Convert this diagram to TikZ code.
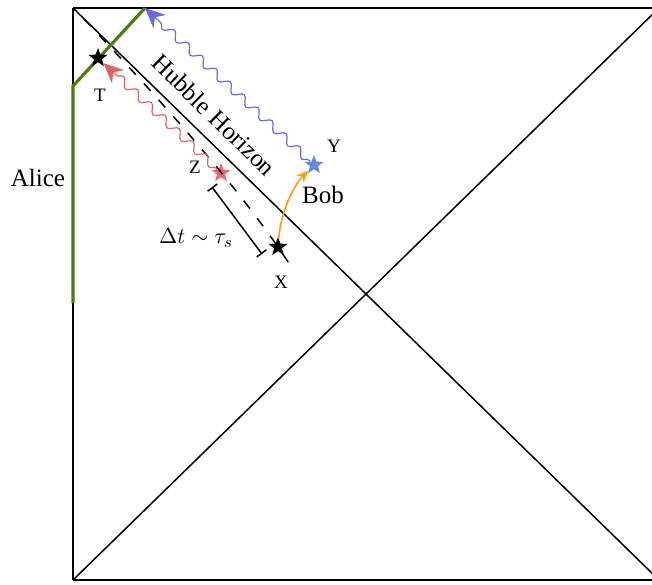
\documentclass[tikz,border=0pt]{standalone}
\usepackage{fontspec}
\setmainfont{Liberation Serif}
\usetikzlibrary{arrows.meta,positioning,shapes.geometric,decorations.pathmorphing}

\definecolor{alicegreen}{RGB}{77,125,15}
\definecolor{wavered}{RGB}{226,100,100}
\definecolor{waveblue}{RGB}{105,105,228}
\definecolor{starblue}{RGB}{100,135,235}
\definecolor{starred}{RGB}{232,105,110}
\definecolor{bobarrow}{RGB}{255,160,0}

\begin{document}
\begin{tikzpicture}[
    x=0.5pt, y=-0.5pt,
    every node/.style={inner sep=1pt},
    frame/.style={line width=0.75pt},
    worldline/.style={line width=1.6pt, alicegreen},
    event/.style={star, star points=5, star point ratio=2.4, minimum size=10pt, inner sep=0pt},
    photon/.style={line width=0.6pt, decorate, decoration={snake, amplitude=2pt, segment length=9.5pt, pre length=1pt, post length=8pt}},
    evlabel/.style={font=\fontsize{9.5}{11}\selectfont},
    namelabel/.style={font=\fontsize{12.5}{15}\selectfont}
]
\useasboundingbox (0,0) rectangle (652,584);

% Penrose square
\coordinate (tl) at (73,8);
\coordinate (bl) at (73,580);
\coordinate (tr) at (659,8);
\coordinate (br) at (659,580);

\draw[frame] (tl) -- (tr);
\draw[frame] (bl) -- (br);
\draw[frame] (tl) -- (bl);
\draw[frame] (tl) -- (br);
\draw[frame] (bl) -- (tr);

\node[namelabel, rotate=-44.3] (hubble) at (214,115) {Hubble Horizon};

% Alice
\coordinate (abot) at (73,303);
\coordinate (akink) at (73,86);
\coordinate (atop) at (145,8);
\draw[worldline] (abot) -- (akink) -- (atop);
\node[namelabel] (alice) at (38,178) {Alice};

% Events
\node[event, fill=black] (T) at (98,58) {};
\node[event, fill=starred] (Z) at (221,173) {};
\node[event, fill=starblue] (Y) at (314,165) {};
\node[event, fill=black] (X) at (278,247) {};

\node[evlabel] (Tlab) at (100,95) {T};
\node[evlabel] (Zlab) at (195,167) {Z};
\node[evlabel] (Ylab) at (334,146) {Y};
\node[evlabel] (Xlab) at (281,282) {X};
\node[namelabel] (bob) at (323,195) {Bob};

% dashed surface
\coordinate (dstart) at (84,19);
\coordinate (dend) at (292,268);
\draw[frame, dash pattern=on 5pt off 6pt] (dstart) .. controls (170,110) and (245,195) .. (dend);

% time interval
\coordinate (brtop) at (212,187);
\coordinate (brbot) at (262,254);
\draw[frame, {Bar[width=6pt]}-{Bar[width=6pt]}] (brtop) -- (brbot);
\node[font=\fontsize{11}{13}\selectfont] (dt) at (196,238) {$\Delta t\sim\tau_s$};

% Signals
\draw[photon, wavered, -{Stealth[length=10pt, width=9pt]}] (Z) -- (T);
\draw[photon, waveblue, -{Stealth[length=10pt, width=9pt]}] (Y) -- (atop);
\draw[line width=0.8pt, bobarrow, -{Stealth[length=6pt, width=5pt]}] (X) .. controls (281,212) and (293,186) .. (Y);

\end{tikzpicture}
\end{document}
